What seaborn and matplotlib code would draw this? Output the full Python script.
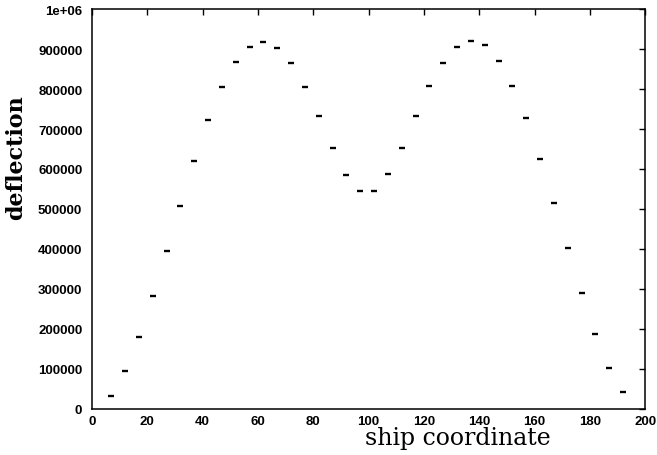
import matplotlib
matplotlib.use("Agg")
import matplotlib.pyplot as plt
import seaborn as sns
import pandas as pd

# Deflection along the ship
ship_coordinate = [7, 12, 17, 22, 27, 32, 37, 42, 47, 52, 57, 62, 67, 72, 77, 82, 87, 92, 97,
                   102, 107, 112, 117, 122, 127, 132, 137, 142, 147, 152, 157, 162, 167, 172,
                   177, 182, 187, 192]
deflection = [33500, 95000, 180000, 282000, 395000, 508000, 621000, 722000, 805000, 868000,
              905000, 918000, 902000, 865000, 805000, 732000, 653000, 585000, 545000,
              545000, 587000, 653000, 732000, 807000, 866000, 906000, 920000, 909000,
              871000, 808000, 727000, 625000, 515000, 402000, 289000, 187500, 102500, 42000]

x_ticks = [0, 20, 40, 60, 80, 100, 120, 140, 160, 180, 200]
y_ticks = [0, 100000, 200000, 300000, 400000, 500000, 600000, 700000, 800000, 900000, 1000000]
y_tick_labels = ["0", "100000", "200000", "300000", "400000", "500000",
                 "600000", "700000", "800000", "900000", "1e+06"]

sns.set_style("white")
plt.rcParams["font.family"] = ["DejaVu Sans"]
plt.rcParams["text.color"] = "black"
plt.rcParams["axes.labelcolor"] = "black"

df = pd.DataFrame({"ship coordinate": ship_coordinate, "deflection": deflection})

fig = plt.figure(figsize=(6.57, 4.56), dpi=100)
ax = fig.add_axes([0.140, 0.101, 0.842, 0.877])

sns.scatterplot(data=df, x="ship coordinate", y="deflection", ax=ax,
                marker="_", s=22, linewidth=1.7, color="black", legend=False)

ax.set_xlim(0, 200)
ax.set_ylim(0, 1000000)
ax.set_xticks(x_ticks)
ax.set_xticklabels([str(t) for t in x_ticks])
ax.set_yticks(y_ticks)
ax.set_yticklabels(y_tick_labels)

for spine in ax.spines.values():
    spine.set_visible(True)
    spine.set_linewidth(1.1)
    spine.set_color("black")

ax.tick_params(axis="both", which="major", direction="in", length=4.5, width=1.0,
               top=True, right=True, colors="black", labelcolor="black")
ax.tick_params(axis="x", pad=4.5)
ax.tick_params(axis="y", pad=7)
for lab in ax.get_xticklabels() + ax.get_yticklabels():
    lab.set_fontfamily(["Liberation Sans", "DejaVu Sans"])
    lab.set_fontweight("bold")
    lab.set_fontsize(9.5)

ax.set_xlabel("ship coordinate", fontsize=17, family=["DejaVu Serif"], labelpad=0,
              color="black")
ax.xaxis.set_label_coords(0.662, -0.042)
ax.set_ylabel("deflection", fontsize=16, family=["DejaVu Serif"], fontweight="bold",
              color="black")
ax.yaxis.set_label_coords(-0.117, 0.63)

fig.savefig("out.png", dpi=100, facecolor="white")
